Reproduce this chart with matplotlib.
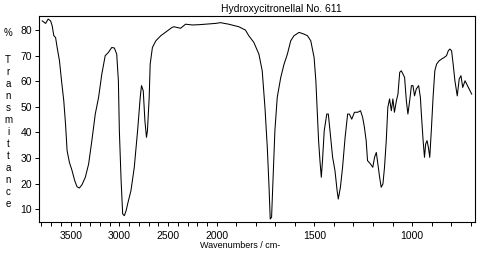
import numpy as np
import matplotlib
matplotlib.use("Agg")
import matplotlib.pyplot as plt

# spectrum: wavenumber (cm-1) and % transmittance
wavenumber = [3792, 3757, 3731, 3706, 3690, 3673, 3655, 3639, 3615, 3594,
              3571, 3553, 3537, 3513, 3486, 3459, 3435, 3411, 3384, 3350,
              3316, 3283, 3248, 3214, 3181, 3146, 3113, 3079, 3052, 3028,
              3011, 3001, 2983, 2967, 2950, 2932, 2916, 2882, 2848, 2814,
              2787, 2774, 2756, 2739, 2723, 2713, 2695, 2685, 2662, 2627,
              2576, 2509, 2458, 2441, 2373, 2322, 2255, 2186, 2118, 2016,
              1982, 1940, 1888, 1854, 1837, 1811, 1785, 1768, 1754, 1742,
              1733, 1727, 1720, 1713, 1703, 1691, 1673, 1656, 1639, 1622,
              1605, 1579, 1553, 1536, 1519, 1502, 1493, 1485, 1479, 1472,
              1465, 1459, 1450, 1437, 1429, 1419, 1407, 1395, 1384, 1378,
              1367, 1356, 1343, 1330, 1321, 1309, 1295, 1278, 1264, 1253,
              1244, 1235, 1228, 1213, 1201, 1192, 1183, 1175, 1166, 1158,
              1149, 1141, 1132, 1124, 1115, 1106, 1098, 1090, 1080, 1072,
              1063, 1055, 1046, 1038, 1029, 1021, 1012, 1003, 995, 987,
              978, 966, 957, 952, 943, 936, 930, 923, 916, 909,
              901, 892, 883, 874, 861, 848, 835, 823, 814, 806,
              797, 789, 780, 768, 758, 749, 740, 728, 711, 694]
transmittance = [83.6, 82.6, 84.3, 83.6, 81.7, 77.8, 77.1, 73.2, 68.0, 60.2,
                 52.4, 43.3, 32.9, 28.3, 25.1, 21.2, 18.8, 18.3, 19.6, 22.5,
                 27.7, 36.8, 47.2, 53.7, 62.8, 70.0, 71.3, 73.2, 73.0, 70.6,
                 60.2, 40.7, 21.2, 8.2, 7.5, 9.4, 12.1, 17.3, 26.4, 40.7,
                 53.7, 58.3, 56.3, 44.6, 38.1, 40.7, 53.7, 66.7, 73.2, 75.8,
                 77.8, 79.7, 81.1, 81.3, 80.7, 82.3, 82.0, 82.1, 82.3, 82.6,
                 82.9, 82.3, 81.3, 80.0, 77.8, 75.2, 70.6, 64.1, 49.8, 34.2,
                 18.6, 6.2, 6.9, 21.2, 40.7, 53.7, 61.5, 66.7, 70.6, 75.8,
                 77.8, 79.1, 78.4, 77.8, 75.8, 69.3, 60.2, 47.2, 36.8, 29.0,
                 22.5, 29.0, 40.7, 47.2, 47.2, 39.4, 30.3, 25.1, 17.3, 14.0,
                 18.6, 26.4, 38.1, 47.2, 47.2, 45.2, 47.9, 47.9, 48.5, 45.9,
                 42.0, 36.8, 29.0, 27.7, 26.4, 30.3, 32.2, 27.7, 22.5, 18.6,
                 19.9, 26.4, 36.8, 49.8, 53.1, 48.5, 53.1, 47.9, 52.4, 55.0,
                 63.5, 64.1, 62.8, 61.5, 52.4, 47.2, 52.4, 58.3, 58.3, 54.3,
                 57.0, 58.3, 53.7, 47.2, 36.8, 30.3, 35.5, 36.8, 34.2, 30.3,
                 40.7, 53.7, 64.1, 66.7, 68.0, 68.7, 69.3, 70.0, 71.9, 72.6,
                 71.9, 66.7, 60.2, 54.3, 60.9, 62.2, 57.6, 60.2, 57.6, 55.0]

xtick_vals = [3500, 3000, 2500, 2000, 1500, 1000]
ytick_vals = [10, 20, 30, 40, 50, 60, 70, 80]
title = "Hydroxycitronellal No. 611"

W, H = 485, 258
plt.rcParams['font.family'] = ['Liberation Sans', 'DejaVu Sans']


def px(x, y):
    return x / W, 1 - y / H


# scale is doubled below 2000 cm-1
def fwd(w):
    w = np.asarray(w, dtype=float)
    return np.where(w > 2000, 2000 + (w - 2000) / 2, w)


def inv(u):
    u = np.asarray(u, dtype=float)
    return np.where(u > 2000, 2000 + (u - 2000) * 2, u)


fig = plt.figure(figsize=(W / 100, H / 100), dpi=100)
ax = fig.add_axes([39 / W, 1 - 221.7 / H, 436 / W, 205.7 / H])
ax.set_xscale('function', functions=(fwd, inv))
ax.plot(wavenumber, transmittance, color='black', lw=0.75)
ax.set_xlim(3825, 677)
ax.set_ylim(5.15, 85.5)

minor = list(range(3800, 699, -100))
ax.set_xticks(minor, [str(t) if t in xtick_vals else "" for t in minor])
ax.set_yticks(ytick_vals)
ax.tick_params(direction='out', length=3, width=0.7, labelsize=7.5, pad=2)
ax.tick_params(axis='x', pad=4)
for s in ax.spines.values():
    s.set_linewidth(0.8)

fig.text(*px(342, 12), title, fontsize=7.5, ha='right', va='baseline')
fig.text(*px(240, 245), "Wavenumbers / cm-", fontsize=6.5, ha='center', va='center')
fig.text(*px(8, 33), "%", fontsize=7, ha='center', va='center')
fig.text(*px(8, 55), "\n".join("Transmittance"), fontsize=7, ha='center',
         va='top', linespacing=1.25)

fig.savefig("out.png", dpi=100)
